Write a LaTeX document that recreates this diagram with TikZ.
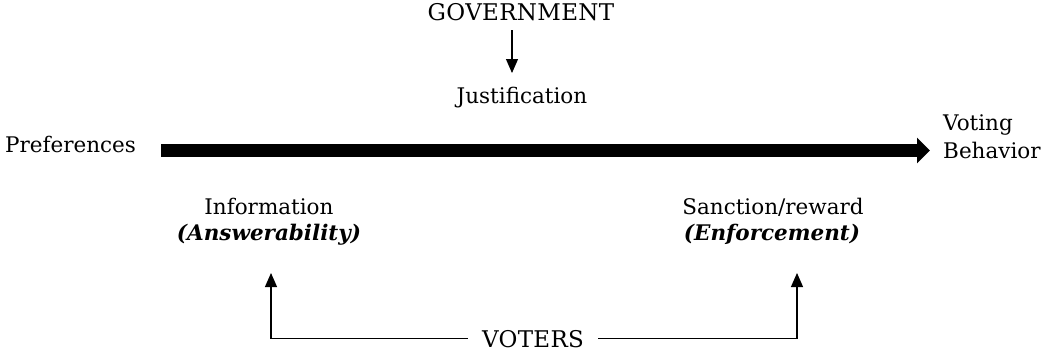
\documentclass[tikz,border=0pt]{standalone}
\usepackage{fontspec}
\setmainfont{DejaVu Serif}
\usetikzlibrary{arrows.meta}
\begin{document}
\begin{tikzpicture}[x=1pt,y=-1pt,
  lbl/.style={inner sep=0pt, font=\fontsize{21.5}{26}\selectfont},
  caps/.style={inner sep=0pt, font=\fontsize{23}{27}\selectfont\addfontfeatures{LetterSpace=1.5}},
  emph/.style={inner sep=0pt, font=\fontsize{21.5}{26}\selectfont\bfseries\itshape},
  thinarrow/.style={line width=1.1pt, -{Triangle[length=14pt,width=12pt]}},
  thinline/.style={line width=1.1pt},
  fatarrow/.style={line width=13pt, -{Triangle[length=13pt,width=25pt]}}]
\useasboundingbox (0,0) rectangle (1046,354);

% labels
\node[caps, anchor=base] (gov) at (521,20) {GOVERNMENT};
\node[lbl, anchor=base] (just) at (522,103) {Justification};
\node[lbl, anchor=base west] (pref) at (5,152) {Preferences};
\node[lbl, anchor=base west] (vote) at (943,130) {Voting};
\node[lbl, anchor=base west] (behav) at (943,158) {Behavior};
\node[lbl, anchor=base] (info) at (269,214) {Information};
\node[emph, anchor=base] (answ) at (269,240) {(Answerability)};
\node[lbl, anchor=base] (sanc) at (773,214) {Sanction/reward};
\node[emph, anchor=base] (enf) at (772,240) {(Enforcement)};
\node[caps, anchor=base, inner xsep=14pt] (voters) at (533,347) {VOTERS};

% connector end points
\coordinate (barL) at (161,150.5);
\coordinate (barR) at (930,150.5);
\coordinate (govOut) at (512,30);
\coordinate (justIn) at (512,73);
\coordinate (answIn) at (271,273);
\coordinate (enfIn) at (797,273);

% government justifies
\draw[thinarrow] (govOut) -- (justIn);
% from preferences to voting behavior
\draw[fatarrow] (barL) -- (barR);
% voters demand information and apply sanctions
\draw[thinline] (voters.west) -| (answIn |- 0,300);
\draw[thinarrow] (answIn |- 0,300) -- (answIn);
\draw[thinline] (voters.east) -| (enfIn |- 0,300);
\draw[thinarrow] (enfIn |- 0,300) -- (enfIn);
\end{tikzpicture}
\end{document}
